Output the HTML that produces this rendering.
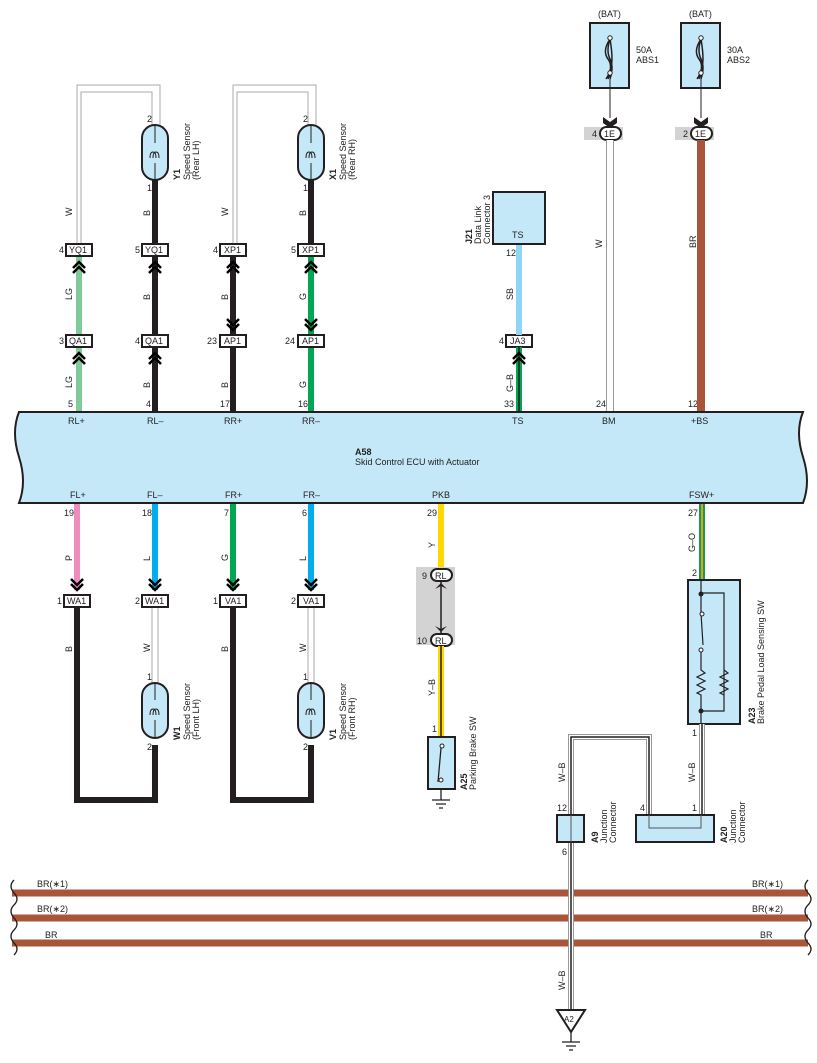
<!DOCTYPE html>
<html><head><meta charset="utf-8"><style>
html,body{margin:0;padding:0;background:#fff}
svg{display:block}
text{font-family:"Liberation Sans",sans-serif;font-size:9px;fill:#222}
.b{font-weight:bold}
</style></head><body>
<svg width="817" height="1063" viewBox="0 0 817 1063" xmlns="http://www.w3.org/2000/svg">
<defs>
<g id="chu"><polyline points="-6,6 0,0 6,6" fill="none" stroke="#000" stroke-width="2.5"/><polyline points="-6,11 0,5 6,11" fill="none" stroke="#000" stroke-width="2.5"/></g>
<g id="chd"><polyline points="-6,-6 0,0 6,-6" fill="none" stroke="#000" stroke-width="2.5"/><polyline points="-6,-11 0,-5 6,-11" fill="none" stroke="#000" stroke-width="2.5"/></g>
</defs>

<path d="M77,250 V85 H160 V125" fill="none" stroke="#aaa" stroke-width="1"/>
<path d="M81,250 V92 H152 V125" fill="none" stroke="#aaa" stroke-width="1"/>
<path d="M233,250 V85 H316 V125" fill="none" stroke="#aaa" stroke-width="1"/>
<path d="M237,250 V92 H308 V125" fill="none" stroke="#aaa" stroke-width="1"/>

<line x1="155" y1="180" x2="155" y2="244" stroke="#231f20" stroke-width="6"/>
<line x1="311" y1="180" x2="311" y2="244" stroke="#231f20" stroke-width="6"/>
<line x1="79" y1="256" x2="79" y2="335" stroke="#7fcc9a" stroke-width="6"/>
<line x1="79" y1="347" x2="79" y2="412" stroke="#7fcc9a" stroke-width="6"/>
<line x1="155" y1="256" x2="155" y2="335" stroke="#231f20" stroke-width="6"/>
<line x1="155" y1="347" x2="155" y2="412" stroke="#231f20" stroke-width="6"/>
<line x1="233" y1="256" x2="233" y2="335" stroke="#231f20" stroke-width="6"/>
<line x1="233" y1="347" x2="233" y2="412" stroke="#231f20" stroke-width="6"/>
<line x1="311" y1="256" x2="311" y2="335" stroke="#00a651" stroke-width="6"/>
<line x1="311" y1="347" x2="311" y2="412" stroke="#00a651" stroke-width="6"/>
<use href="#chu" x="79" y="262"/><use href="#chu" x="79" y="353"/>
<use href="#chu" x="155" y="262"/><use href="#chu" x="155" y="353"/>
<use href="#chu" x="233" y="262"/><use href="#chd" x="233" y="330"/>
<use href="#chu" x="311" y="262"/><use href="#chd" x="311" y="330"/>

<g>
<rect x="142" y="125" width="26" height="55" rx="13" fill="#c5e8f8" stroke="#231f20" stroke-width="2"/>
<path d="M155,125 V143 M155,163 V180" stroke="#231f20" stroke-width="1"/>
<path d="M150,158 q0,-6 3,-6 q3,0 3,6 M153,158 q0,-6 3,-6 q3,0 3,6" fill="none" stroke="#231f20" stroke-width="1"/>
</g>
<g>
<rect x="298" y="125" width="26" height="55" rx="13" fill="#c5e8f8" stroke="#231f20" stroke-width="2"/>
<path d="M311,125 V143 M311,163 V180" stroke="#231f20" stroke-width="1"/>
<path d="M306,158 q0,-6 3,-6 q3,0 3,6 M309,158 q0,-6 3,-6 q3,0 3,6" fill="none" stroke="#231f20" stroke-width="1"/>
</g>
<text x="147" y="122">2</text><text x="147" y="191">1</text>
<text x="303" y="122">2</text><text x="303" y="191">1</text>
<g transform="translate(180,180) rotate(-90)"><text class="b" x="0" y="0">Y1</text><text x="0" y="10">Speed Sensor</text><text x="0" y="19">(Rear LH)</text></g>
<g transform="translate(336,180) rotate(-90)"><text class="b" x="0" y="0">X1</text><text x="0" y="10">Speed Sensor</text><text x="0" y="19">(Rear RH)</text></g>

<g transform="rotate(-90)">
<text x="-216" y="72">W</text><text x="-216" y="150">B</text><text x="-216" y="228">W</text><text x="-216" y="306">B</text>
<text x="-300" y="72">LG</text><text x="-300" y="150">B</text><text x="-300" y="228">B</text><text x="-300" y="306">G</text>
<text x="-388" y="72">LG</text><text x="-388" y="150">B</text><text x="-388" y="228">B</text><text x="-388" y="306">G</text>
<text x="-300" y="513">SB</text><text x="-392" y="513">G–B</text>
<text x="-248" y="602">W</text><text x="-248" y="696">BR</text>
<text x="-561" y="72">P</text><text x="-561" y="150">L</text><text x="-561" y="228">G</text><text x="-561" y="306">L</text>
<text x="-548" y="435">Y</text>
<text x="-652" y="72">B</text><text x="-652" y="150">W</text><text x="-652" y="228">B</text><text x="-652" y="306">W</text>
<text x="-696" y="435">Y–B</text>
<text x="-552" y="695">G–O</text>
<text x="-782" y="565">W–B</text><text x="-782" y="695">W–B</text>
<text x="-990" y="565">W–B</text>
</g>

<g stroke="#231f20" stroke-width="2" fill="#fff">
<rect x="66" y="244" width="26" height="12"/><rect x="142" y="244" width="26" height="12"/>
<rect x="220" y="244" width="26" height="12"/><rect x="298" y="244" width="26" height="12"/>
<rect x="66" y="335" width="26" height="12"/><rect x="142" y="335" width="26" height="12"/>
<rect x="220" y="335" width="26" height="12"/><rect x="298" y="335" width="26" height="12"/>
<rect x="506" y="335" width="26" height="12"/>
</g>
<text x="69" y="253">YQ1</text><text x="145" y="253">YQ1</text><text x="224" y="253">XP1</text><text x="302" y="253">XP1</text>
<text x="69" y="344">QA1</text><text x="145" y="344">QA1</text><text x="224" y="344">AP1</text><text x="302" y="344">AP1</text>
<text x="510" y="344">JA3</text>
<text x="59" y="253">4</text><text x="135" y="253">5</text><text x="213" y="253">4</text><text x="291" y="253">5</text>
<text x="59" y="344">3</text><text x="135" y="344">4</text><text x="207" y="344">23</text><text x="285" y="344">24</text><text x="499" y="344">4</text>
<text x="68" y="407">5</text><text x="146" y="407">4</text><text x="220" y="407">17</text><text x="298" y="407">16</text>
<text x="504" y="407">33</text><text x="596" y="407">24</text><text x="688" y="407">12</text>

<rect x="493" y="192" width="52" height="52" fill="#c5e8f8" stroke="#231f20" stroke-width="2"/>
<text x="512" y="238">TS</text>
<g transform="translate(472,244) rotate(-90)"><text class="b" x="0" y="0">J21</text><text x="0" y="9">Data Link</text><text x="0" y="18">Connector 3</text></g>
<text x="506" y="256">12</text>
<line x1="519" y1="245" x2="519" y2="335" stroke="#8fd6f5" stroke-width="6"/>
<line x1="519" y1="347" x2="519" y2="412" stroke="#00a651" stroke-width="6"/>
<line x1="519" y1="347" x2="519" y2="412" stroke="#231f20" stroke-width="1.5"/>
<use href="#chu" x="519" y="353"/>

<text x="598" y="17">(BAT)</text><text x="689" y="17">(BAT)</text>
<rect x="590" y="23" width="39" height="65" fill="#c5e8f8" stroke="#231f20" stroke-width="2"/>
<rect x="681" y="23" width="39" height="65" fill="#c5e8f8" stroke="#231f20" stroke-width="2"/>
<g fill="none" stroke="#231f20" stroke-width="1.5">
<path d="M610,39 q-8,12 -2,20 q6,8 -2,20 M610,39 q-4,12 0,20 q4,8 0,20 M610,39 q2,12 2,20 q0,8 -4,20"/>
<path d="M701,39 q-8,12 -2,20 q6,8 -2,20 M701,39 q-4,12 0,20 q4,8 0,20 M701,39 q2,12 2,20 q0,8 -4,20"/>
</g>
<circle cx="610" cy="38" r="2.2" fill="#fff" stroke="#231f20"/><circle cx="610" cy="73" r="2.2" fill="#fff" stroke="#231f20"/>
<circle cx="701" cy="38" r="2.2" fill="#fff" stroke="#231f20"/><circle cx="701" cy="73" r="2.2" fill="#fff" stroke="#231f20"/>
<text x="636" y="53">50A</text><text x="636" y="63">ABS1</text>
<text x="727" y="53">30A</text><text x="727" y="63">ABS2</text>
<line x1="610" y1="75" x2="610" y2="118" stroke="#231f20" stroke-width="1"/>
<line x1="701" y1="75" x2="701" y2="118" stroke="#231f20" stroke-width="1"/>
<path d="M603,117 l7,5 l7,-5 v6 l-7,5 l-7,-5z" fill="#231f20"/>
<path d="M694,117 l7,5 l7,-5 v6 l-7,5 l-7,-5z" fill="#231f20"/>
<rect x="584" y="127" width="39" height="13" fill="#d3d3d3"/>
<rect x="675" y="127" width="39" height="13" fill="#d3d3d3"/>
<rect x="600" y="127" width="21" height="13" rx="6.5" fill="#fff" stroke="#231f20" stroke-width="2"/>
<rect x="691" y="127" width="21" height="13" rx="6.5" fill="#fff" stroke="#231f20" stroke-width="2"/>
<text x="604" y="137">1E</text><text x="695" y="137">1E</text>
<text x="592" y="137">4</text><text x="683" y="137">2</text>
<line x1="610" y1="140" x2="610" y2="412" stroke="#999" stroke-width="8"/>
<line x1="610" y1="140" x2="610" y2="412" stroke="#fff" stroke-width="6"/>
<line x1="701" y1="140" x2="701" y2="412" stroke="#a9553a" stroke-width="8"/>

<path d="M19,412 H803 q-8,20 0,45 q8,25 0,46 H19 q8,-21 0,-46 q-8,-25 0,-45z" fill="#c5e8f8" stroke="#231f20" stroke-width="2"/>
<text x="68" y="424">RL+</text><text x="147" y="424">RL–</text><text x="224" y="424">RR+</text><text x="302" y="424">RR–</text>
<text x="512" y="424">TS</text><text x="602" y="424">BM</text><text x="691" y="424">+BS</text>
<text class="b" x="355" y="455">A58</text><text x="355" y="465">Skid Control ECU with Actuator</text>
<text x="70" y="498">FL+</text><text x="147" y="498">FL–</text><text x="225" y="498">FR+</text><text x="303" y="498">FR–</text>
<text x="432" y="498">PKB</text><text x="689" y="498">FSW+</text>
<text x="64" y="516">19</text><text x="142" y="516">18</text><text x="224" y="516">7</text><text x="302" y="516">6</text>
<text x="427" y="516">29</text><text x="688" y="516">27</text>

<line x1="77" y1="504" x2="77" y2="590" stroke="#f08bbd" stroke-width="6"/>
<line x1="155" y1="504" x2="155" y2="590" stroke="#00aeef" stroke-width="6"/>
<line x1="233" y1="504" x2="233" y2="590" stroke="#00a651" stroke-width="6"/>
<line x1="311" y1="504" x2="311" y2="590" stroke="#00aeef" stroke-width="6"/>
<use href="#chd" x="77" y="590"/><use href="#chd" x="155" y="590"/><use href="#chd" x="233" y="590"/><use href="#chd" x="311" y="590"/>
<path d="M77,607 V800 H155 V745" fill="none" stroke="#231f20" stroke-width="6"/>
<path d="M233,607 V800 H311 V745" fill="none" stroke="#231f20" stroke-width="6"/>
<path d="M152,607 V683 M158,607 V683 M308,607 V683 M314,607 V683" stroke="#aaa" stroke-width="1"/>
<g stroke="#231f20" stroke-width="2" fill="#fff">
<rect x="64" y="595" width="26" height="12"/><rect x="142" y="595" width="26" height="12"/>
<rect x="220" y="595" width="26" height="12"/><rect x="298" y="595" width="26" height="12"/>
</g>
<text x="67" y="604">WA1</text><text x="145" y="604">WA1</text><text x="225" y="604">VA1</text><text x="303" y="604">VA1</text>
<text x="57" y="604">1</text><text x="135" y="604">2</text><text x="213" y="604">1</text><text x="291" y="604">2</text>
<rect x="142" y="683" width="26" height="55" rx="13" fill="#c5e8f8" stroke="#231f20" stroke-width="2"/>
<rect x="298" y="683" width="26" height="55" rx="13" fill="#c5e8f8" stroke="#231f20" stroke-width="2"/>
<path d="M155,683 V700 M155,720 V738 M311,683 V700 M311,720 V738" stroke="#231f20" stroke-width="1"/>
<path d="M150,715 q0,-6 3,-6 q3,0 3,6 M153,715 q0,-6 3,-6 q3,0 3,6 M306,715 q0,-6 3,-6 q3,0 3,6 M309,715 q0,-6 3,-6 q3,0 3,6" fill="none" stroke="#231f20" stroke-width="1"/>
<text x="147" y="680">1</text><text x="147" y="750">2</text><text x="303" y="680">1</text><text x="303" y="750">2</text>
<g transform="translate(180,740) rotate(-90)"><text class="b" x="0" y="0">W1</text><text x="0" y="10">Speed Sensor</text><text x="0" y="19">(Front LH)</text></g>
<g transform="translate(336,740) rotate(-90)"><text class="b" x="0" y="0">V1</text><text x="0" y="10">Speed Sensor</text><text x="0" y="19">(Front RH)</text></g>

<line x1="441" y1="504" x2="441" y2="570" stroke="#ffd800" stroke-width="6"/>
<rect x="416" y="567" width="39" height="78" fill="#d3d3d3"/>
<line x1="441" y1="580" x2="441" y2="635" stroke="#231f20" stroke-width="1.5"/>
<path d="M435,589 l6,-6 l6,6 l-6,-3z M435,626 l6,6 l6,-6 l-6,3z" fill="#231f20"/>
<rect x="431" y="569" width="21" height="12" rx="6" fill="#fff" stroke="#231f20" stroke-width="2"/>
<rect x="431" y="634" width="21" height="12" rx="6" fill="#fff" stroke="#231f20" stroke-width="2"/>
<text x="435" y="579">RL</text><text x="435" y="644">RL</text>
<text x="422" y="579">9</text><text x="417" y="644">10</text>
<line x1="441" y1="646" x2="441" y2="737" stroke="#ffd800" stroke-width="6"/>
<line x1="441" y1="646" x2="441" y2="737" stroke="#231f20" stroke-width="1.5"/>
<text x="432" y="732">1</text>
<rect x="428" y="737" width="27" height="52" fill="#c5e8f8" stroke="#231f20" stroke-width="2"/>
<path d="M441,746 L441,748 L438,782 M441,789 V800 M432,800 H450 M436,804 H446 M439,808 H443" stroke="#231f20" stroke-width="1.3" fill="none"/>
<circle cx="442" cy="746" r="2" fill="#fff" stroke="#231f20"/><circle cx="441" cy="780" r="2" fill="#fff" stroke="#231f20"/>
<g transform="translate(467,790) rotate(-90)"><text class="b" x="0" y="0">A25</text><text x="0" y="9">Parking Brake SW</text></g>

<line x1="702" y1="504" x2="702" y2="580" stroke="#00a651" stroke-width="6"/>
<line x1="702" y1="504" x2="702" y2="580" stroke="#f7941d" stroke-width="2"/>
<text x="692" y="576">2</text>
<rect x="688" y="580" width="52" height="144" fill="#c5e8f8" stroke="#231f20" stroke-width="2"/>
<g stroke="#231f20" stroke-width="1.2" fill="none">
<path d="M701,580 V593 H724 V711 H701 M701,593 V613 L703,645 M701,650 V670 l4,3 l-8,4 l8,4 l-8,4 l8,4 l-8,4 l4,2 V724"/>
<path d="M724,670 l4,3 l-8,4 l8,4 l-8,4 l8,4 l-8,4 l4,2"/>
</g>
<circle cx="701" cy="594" r="2.5" fill="#231f20"/><circle cx="701" cy="711" r="2.5" fill="#231f20"/>
<circle cx="702" cy="614" r="2" fill="#fff" stroke="#231f20"/><circle cx="701" cy="650" r="2" fill="#fff" stroke="#231f20"/>
<g transform="translate(755,724) rotate(-90)"><text class="b" x="0" y="0">A23</text><text x="0" y="9">Brake Pedal Load Sensing SW</text></g>
<text x="692" y="736">1</text>

<g fill="none">
<path d="M702,724 V829" stroke="#999" stroke-width="6"/><path d="M702,724 V829" stroke="#fff" stroke-width="4"/><path d="M702,724 V829" stroke="#231f20" stroke-width="1.5"/>
<path d="M571,1010 V737 H649 V828 H701" stroke="#999" stroke-width="6"/>
<path d="M571,1010 V737 H649 V828 H701" stroke="#fff" stroke-width="4"/>
<path d="M571,1010 V737 H649 V815" stroke="#231f20" stroke-width="1.5"/>
</g>
<rect x="636" y="815" width="78" height="27" fill="#c5e8f8" stroke="#231f20" stroke-width="2"/>
<path d="M649,815 V828 H701 V815" fill="none" stroke="#555" stroke-width="1"/>
<rect x="557" y="815" width="27" height="27" fill="#c5e8f8" stroke="#231f20" stroke-width="2"/>
<line x1="571" y1="815" x2="571" y2="842" stroke="#555" stroke-width="1"/>
<text x="557" y="811">12</text><text x="640" y="811">4</text><text x="692" y="811">1</text><text x="562" y="855">6</text>
<g transform="translate(598,843) rotate(-90)"><text class="b" x="0" y="0">A9</text><text x="0" y="9">Junction</text><text x="0" y="18">Connector</text></g>
<g transform="translate(727,843) rotate(-90)"><text class="b" x="0" y="0">A20</text><text x="0" y="9">Junction</text><text x="0" y="18">Connector</text></g>

<g stroke="#a9553a" stroke-width="7">
<line x1="12" y1="893" x2="808" y2="893"/><line x1="12" y1="918" x2="808" y2="918"/><line x1="12" y1="943" x2="808" y2="943"/>
</g>
<path d="M571,885 V1010" stroke="#999" stroke-width="6"/><path d="M571,885 V1010" stroke="#fff" stroke-width="4"/><path d="M571,885 V1010" stroke="#231f20" stroke-width="1.5"/>
<g fill="none" stroke="#231f20" stroke-width="1.3">
<path d="M14,880 q-6,6 0,13 q6,6 0,12 q-6,6 0,13 q6,6 0,12 q-6,6 0,13 q6,6 0,12"/>
<path d="M808,880 q-6,6 0,13 q6,6 0,12 q-6,6 0,13 q6,6 0,12 q-6,6 0,13 q6,6 0,12"/>
</g>
<text x="37" y="887">BR(∗1)</text><text x="37" y="912">BR(∗2)</text><text x="45" y="938">BR</text>
<text x="752" y="887">BR(∗1)</text><text x="752" y="912">BR(∗2)</text><text x="760" y="938">BR</text>
<path d="M557,1010 H585 L571,1032z" fill="#fff" stroke="#231f20" stroke-width="2"/>
<text x="564" y="1022" style="font-size:8px">A2</text>
<path d="M571,1032 V1042 M562,1042 H580 M566,1046 H576 M569,1050 H573" stroke="#231f20" stroke-width="1.3"/>
</svg>
</body></html>
